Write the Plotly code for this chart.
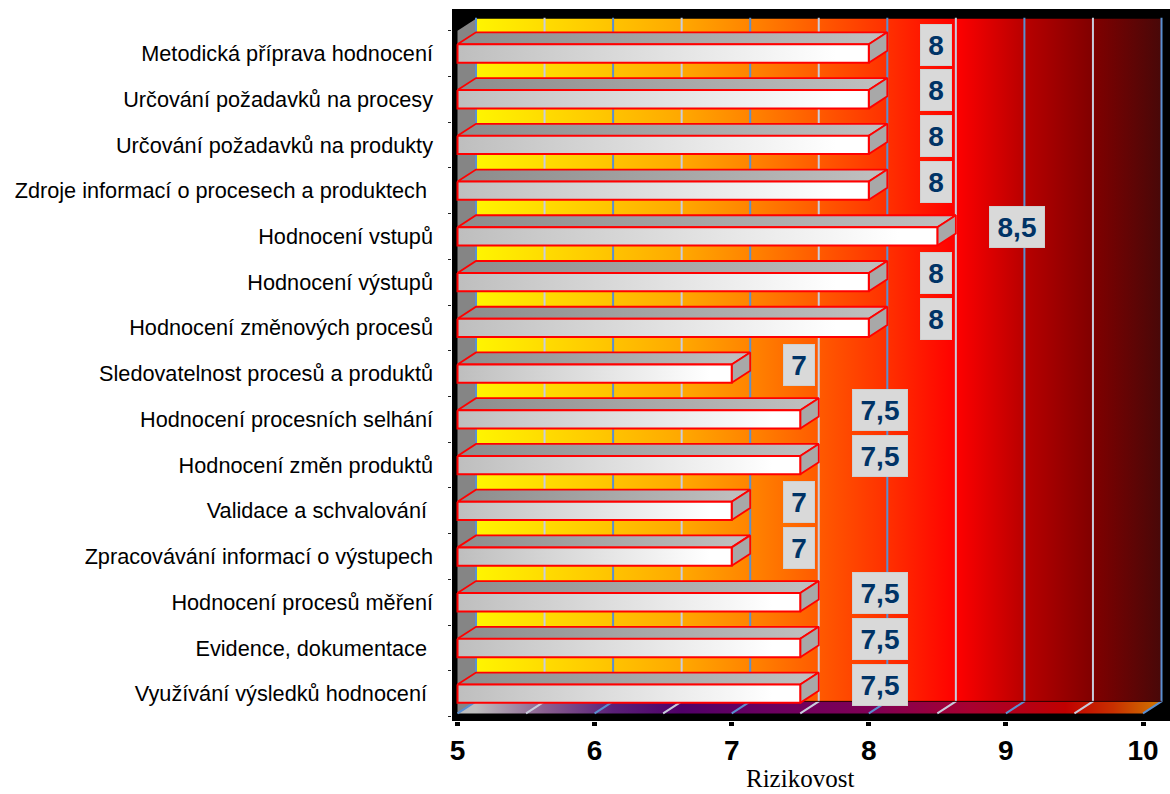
import plotly.graph_objects as go

categories = [
    "Metodická příprava hodnocení",
    "Určování požadavků na procesy",
    "Určování požadavků na produkty",
    "Zdroje informací o procesech a produktech\u00a0",
    "Hodnocení vstupů",
    "Hodnocení výstupů",
    "Hodnocení změnových procesů",
    "Sledovatelnost procesů a produktů",
    "Hodnocení procesních selhání",
    "Hodnocení změn produktů",
    "Validace a schvalování\u00a0",
    "Zpracovávání informací o výstupech",
    "Hodnocení procesů měření",
    "Evidence, dokumentace\u00a0",
    "Využívání výsledků hodnocení\u00a0",
]
values = [8, 8, 8, 8, 8.5, 8, 8, 7, 7.5, 7.5, 7, 7, 7.5, 7.5, 7.5]
x_ticks = [5, 6, 7, 8, 9, 10]
x_title = "Rizikovost"

# layout constants (pixels of the 1170x794 page)
W, H = 1170, 794
LEFT, RIGHT, TOP, BOTTOM = 452, 1170, 9, 721
X5_PX, PX_PER_UNIT = 457.5, 137.1
Y0_PX, PX_PER_CAT = 53.5, 45.73
AX_MIN, AX_MAX = 5, 10

x_range = [AX_MIN + (LEFT - X5_PX) / PX_PER_UNIT, AX_MIN + (RIGHT - X5_PX) / PX_PER_UNIT]
y_range = [(BOTTOM - Y0_PX) / PX_PER_CAT, (TOP - Y0_PX) / PX_PER_CAT]

DX = 18.5 / PX_PER_UNIT      # 3-D depth along x
DY = 12 / PX_PER_CAT         # 3-D depth along y
HALF = 0.2                   # half height of a bar
WALL_TOP = -0.5
FLOOR_Y = 14.43

wall_scale = [
    [0, "#FFF500"], [0.18, "#FFC800"], [0.3, "#FFA800"], [0.41, "#FF8000"],
    [0.6, "#FF3000"], [0.7, "#FF0000"], [0.8, "#B80000"], [0.9, "#800000"], [1, "#480808"],
]
floor_scale = [
    [0, "#BEBEBE"], [0.1, "#8A6090"], [0.2, "#5A2078"], [0.3, "#500068"], [0.42, "#6A0060"],
    [0.58, "#800055"], [0.72, "#A80030"], [0.86, "#C00000"], [0.93, "#C83000"], [1, "#D07800"],
]
front_scale = [[0, "#BEBEBE"], [0.92, "#FFFFFF"], [1, "#FFFFFF"]]
top_scale = [[0, "#8C8C8C"], [1, "#BEBEBE"]]
BLUE, LIGHT = "#5B8FD0", "#C8CCDC"
RED = "#FF0000"

fig = go.Figure()


def poly(xs, ys, color=None, scale=None, start=None, stop=None, line=None, lw=0):
    kw = dict(
        x=list(xs) + [xs[0]], y=list(ys) + [ys[0]], mode="lines", fill="toself",
        hoverinfo="skip", showlegend=False,
        line=dict(width=lw, color=line or "rgba(0,0,0,0)"),
    )
    if scale:
        kw["fillgradient"] = dict(type="horizontal", colorscale=scale, start=start, stop=stop)
        kw["fillcolor"] = "rgba(0,0,0,0)"
    else:
        kw["fillcolor"] = color
    fig.add_trace(go.Scatter(**kw))


positions = list(range(len(categories)))

# Real bars (the gradient faces are drawn over them)
fig.add_trace(go.Bar(
    y=positions, x=[v - AX_MIN for v in values], base=AX_MIN, orientation="h",
    width=2 * HALF, marker=dict(color="#D8D8D8"), showlegend=False,
    customdata=values, text=categories,
    textposition="none", hovertemplate="%{text}: %{customdata}<extra></extra>",
))

# Back wall
wl, wr = AX_MIN + DX, AX_MAX + DX
wt, wb = WALL_TOP - DY, FLOOR_Y - DY
poly([wl, wr, wr, wl], [wt, wt, wb, wb], scale=wall_scale, start=wl, stop=wr)
# Floor
poly([AX_MIN, wl, wr, AX_MAX], [FLOOR_Y, wb, wb, FLOOR_Y], scale=floor_scale, start=wl, stop=wr)
# Left wall
poly([AX_MIN, wl, wl, AX_MIN], [WALL_TOP, wt, wb, FLOOR_Y], color="#858585")

# Wall / floor grid
for k, color in ((0, BLUE), (1, LIGHT)):
    gx, gy = [], []
    for n in range(k, 2 * (AX_MAX - AX_MIN) + 1, 2):
        g = AX_MIN + n * 0.5
        gx += [g + DX, g + DX, g, None]
        gy += [wt - 0.02, wb, FLOOR_Y, None]
    fig.add_trace(go.Scatter(x=gx, y=gy, mode="lines", line=dict(color=color, width=2),
                             hoverinfo="skip", showlegend=False))
fig.add_trace(go.Scatter(x=[wl, wr], y=[wb, wb], mode="lines", line=dict(color="#300000", width=1),
                         hoverinfo="skip", showlegend=False))

# 3-D bars
for i, v in enumerate(values):
    t, b = i - HALF, i + HALF
    poly([AX_MIN, AX_MIN + DX, v + DX, v], [t, t - DY, t - DY, t],
         scale=top_scale, start=AX_MIN, stop=v, line=RED, lw=1.8)
    poly([v, v + DX, v + DX, v], [t, t - DY, b - DY, b], color="#A8A8A8", line=RED, lw=1.8)
    poly([AX_MIN, v, v, AX_MIN], [t, t, b, b],
         scale=front_scale, start=AX_MIN, stop=v, line=RED, lw=2)

# Value labels
annotations = []
for i, v in enumerate(values):
    whole = float(v).is_integer()
    text = f"{v:g}".replace(".", ",")
    annotations.append(dict(
        x=v, y=i, xref="x", yref="y", text=f"<b>{text}</b>", showarrow=False,
        xanchor="center", yanchor="middle", xshift=67.5 if whole else 79.5, yshift=9,
        width=30 if whole else 54, height=40, bgcolor="#D9D9D9",
        bordercolor="#CFCFCF", borderwidth=1, borderpad=0,
        font=dict(family="Liberation Sans", size=28, color="#003366"),
    ))
annotations.append(dict(
    x=7.5, y=0, xref="x", yref="paper", text=x_title, showarrow=False,
    xanchor="center", yanchor="top", yshift=-42,
    font=dict(family="Liberation Serif", size=25, color="#000000"),
))

fig.update_layout(
    width=W, height=H, margin=dict(l=LEFT, r=W - RIGHT, t=TOP, b=H - BOTTOM, pad=0),
    paper_bgcolor="#FFFFFF", plot_bgcolor="#000000", showlegend=False, barmode="overlay",
    annotations=annotations,
    xaxis=dict(
        range=x_range, tickmode="array", tickvals=x_ticks, ticktext=[str(t) for t in x_ticks],
        ticks="outside", ticklen=4, tickwidth=5, tickcolor="#000000", showgrid=False, zeroline=False,
        showline=False, ticklabelstandoff=0,
        tickfont=dict(family="Liberation Sans", size=28, color="#000000", weight="bold"),
    ),
    yaxis=dict(
        range=y_range, tickmode="array", tickvals=positions, ticktext=categories,
        ticks="", showgrid=False, zeroline=False, showline=False, ticklabelstandoff=18,
        minor=dict(tickmode="array", tickvals=[p - 0.5 for p in positions] + [positions[-1] + 0.5],
                   ticks="outside", ticklen=3, tickwidth=1, tickcolor="#222222", showgrid=False),
        tickfont=dict(family="Liberation Sans", size=21.7, color="#000000"),
    ),
)

fig.write_html("out.html", config={"displayModeBar": False},
               post_script="document.body.style.margin='0';document.body.style.overflow='hidden';")
